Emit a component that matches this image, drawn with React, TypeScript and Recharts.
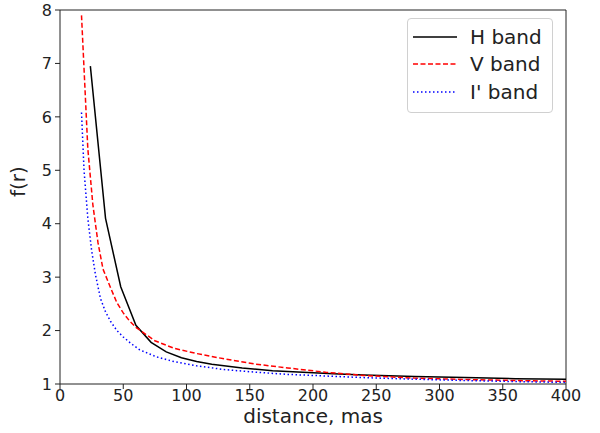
import React from "react"
import { LineChart, Line, XAxis, YAxis, ReferenceLine } from "recharts"

// distances (mas) and f(r)
const hDist = [24, 36, 48, 60, 72, 84, 96, 108, 120, 144, 168, 192, 216, 240, 280, 320, 360, 400]
const hVals = [6.95, 4.1, 2.82, 2.1, 1.78, 1.6, 1.49, 1.42, 1.37, 1.3, 1.25, 1.22, 1.19, 1.17, 1.14, 1.12, 1.1, 1.09]

const vDist = [17, 22, 26, 30, 34, 40, 45, 50, 55, 60, 75, 90, 108, 130, 155, 180, 210, 240, 280, 320, 360, 400]
const vVals = [7.9, 5.4, 4.35, 3.65, 3.15, 2.8, 2.52, 2.33, 2.18, 2.06, 1.81, 1.67, 1.57, 1.47, 1.37, 1.3, 1.22, 1.16, 1.11, 1.085, 1.065, 1.05]

const iDist = [17, 19, 22, 25, 28, 32, 36, 40, 45, 50, 56, 63, 70, 76, 90, 108, 130, 155, 180, 210, 240, 280, 320, 360, 400]
const iVals = [6.08, 5.0, 4.1, 3.5, 3.05, 2.6, 2.35, 2.17, 2.0, 1.88, 1.76, 1.64, 1.57, 1.51, 1.42, 1.34, 1.27, 1.22, 1.18, 1.15, 1.12, 1.09, 1.065, 1.045, 1.03]

const xTicks = [0, 50, 100, 150, 200, 250, 300, 350, 400]
const yTicks = [1, 2, 3, 4, 5, 6, 7, 8]

const series = [
  { name: "H band", color: "#000000", dash: undefined, dist: hDist, vals: hVals },
  { name: "V band", color: "#ff0000", dash: "5 2.5", dist: vDist, vals: vVals },
  { name: "I' band", color: "#0000ff", dash: "1.5 2.5", dist: iDist, vals: iVals },
]

const toRows = (d: number[], v: number[]) => d.map((x, i) => ({ d: x, f: v[i] }))

const font = "DejaVu Sans, sans-serif"
const axisColor = "#222"

function LegendBox() {
  return (
    <div
      style={{
        position: "absolute",
        left: 407,
        top: 18,
        width: 146,
        boxSizing: "border-box",
        border: "1px solid #d0d0d0",
        borderRadius: 4,
        background: "rgba(255,255,255,0.8)",
        padding: "4px 0 6px 5px",
        fontFamily: font,
        fontSize: 20,
        color: "#222",
      }}
    >
      {series.map((s) => (
        <div key={s.name} style={{ display: "flex", alignItems: "center", height: 27.5 }}>
          <svg width={44} height={10} style={{ marginRight: 13 }}>
            <line x1={0} y1={5} x2={44} y2={5} stroke={s.color} strokeWidth={1.5} strokeDasharray={s.dash} />
          </svg>
          <span>{s.name}</span>
        </div>
      ))}
    </div>
  )
}

export default function App() {
  return (
    <div style={{ position: "absolute", left: 0, top: 0, width: 600, height: 433, background: "#fff" }}>
      <LineChart width={600} height={433} margin={{ top: 10, right: 34, bottom: 0, left: 0 }}>
        <XAxis
          type="number"
          dataKey="d"
          domain={[0, 400]}
          ticks={xTicks}
          allowDataOverflow
          stroke={axisColor}
          tickSize={5}
          tickMargin={1}
          height={49}
          tick={{ fill: axisColor, fontSize: 16, fontFamily: font }}
          label={{ value: "distance, mas", position: "insideBottom", offset: 10, fill: axisColor, fontSize: 20, fontFamily: font }}
        />
        <YAxis
          type="number"
          domain={[1, 8]}
          ticks={yTicks}
          allowDataOverflow
          stroke={axisColor}
          tickSize={5}
          tickMargin={3}
          width={60}
          tick={{ fill: axisColor, fontSize: 16, fontFamily: font }}
          label={{ value: "f(r)", angle: -90, position: "insideLeft", offset: 18, fill: axisColor, fontSize: 20, fontFamily: font }}
        />
        <ReferenceLine y={8} stroke={axisColor} />
        <ReferenceLine x={400} stroke={axisColor} />
        {series.map((s) => (
          <Line
            key={s.name}
            data={toRows(s.dist, s.vals)}
            dataKey="f"
            name={s.name}
            type="linear"
            stroke={s.color}
            strokeWidth={1.5}
            strokeDasharray={s.dash}
            dot={false}
            activeDot={false}
            isAnimationActive={false}
          />
        ))}
      </LineChart>
      <LegendBox />
    </div>
  )
}
